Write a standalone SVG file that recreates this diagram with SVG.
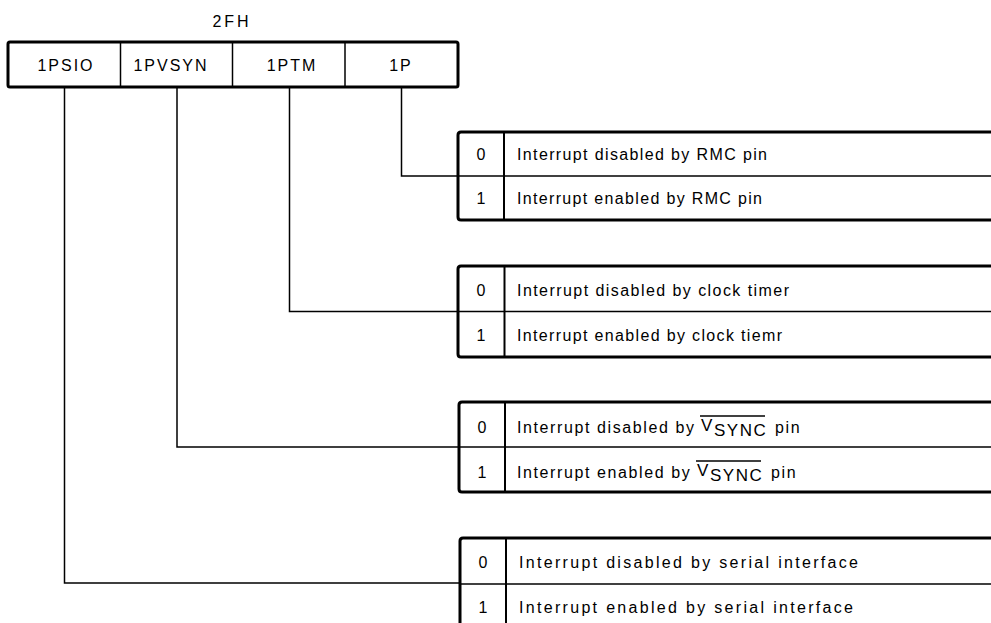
<svg xmlns="http://www.w3.org/2000/svg" width="991" height="623" viewBox="0 0 991 623">
<style>
.t{font-family:"Liberation Sans",Arial,sans-serif;font-size:16px;letter-spacing:2px;fill:#000}
.d{font-family:"Liberation Sans",Arial,sans-serif;font-size:16px;fill:#000}
.v{font-family:"Liberation Sans",Arial,sans-serif;font-size:16px;letter-spacing:1.6px;fill:#000}
.bv{font-size:17px;letter-spacing:0}
.bs{font-size:17px;letter-spacing:1.5px}
.n{font-family:"Liberation Sans",Arial,sans-serif;font-size:16px;fill:#000}
.thick{stroke:#000;stroke-width:3;fill:none;stroke-linejoin:round}
.thin{stroke:#000;stroke-width:1.5;fill:none}
.div{stroke:#000;stroke-width:2;fill:none}
.ov{stroke:#000;stroke-width:1.3}
</style>
<rect width="991" height="623" fill="#fff"/>
<g id="register">
<text class="t" x="232" y="27" text-anchor="middle" style="letter-spacing:3px">2FH</text>
<rect class="thick" x="8" y="42" width="450" height="45" rx="2"/>
<line class="thin" x1="120.5" y1="42" x2="120.5" y2="87"/>
<line class="thin" x1="232.5" y1="42" x2="232.5" y2="87"/>
<line class="thin" x1="345" y1="42" x2="345" y2="87"/>
<text class="t" x="66" y="71" text-anchor="middle">1PSIO</text>
<text class="t" x="171" y="71" text-anchor="middle">1PVSYN</text>
<text class="t" x="292" y="71" text-anchor="middle">1PTM</text>
<text class="t" x="401" y="71" text-anchor="middle">1P</text>
</g>
<g id="connectors">
<polyline class="thin" points="401.5,87 401.5,176 458,176"/>
<polyline class="thin" points="289.5,87 289.5,311.5 458,311.5"/>
<polyline class="thin" points="177,87 177,447 459,447"/>
<polyline class="thin" points="64.5,87 64.5,583 460,583"/>
</g>
<g id="table-1p">
<path class="thick" d="M991,132 H461 Q458,132 458,135 V217 Q458,220 461,220 H991"/>
<line class="thin" x1="458" y1="176" x2="991" y2="176"/>
<line class="div" x1="504" y1="132" x2="504" y2="220"/>
<text class="n" x="481" y="160" text-anchor="middle">0</text>
<text class="d" x="517" y="160" textLength="250" lengthAdjust="spacing">Interrupt disabled by RMC pin</text>
<text class="n" x="481" y="204" text-anchor="middle">1</text>
<text class="d" x="517" y="204" textLength="245" lengthAdjust="spacing">Interrupt enabled by RMC pin</text>
</g>
<g id="table-1ptm">
<path class="thick" d="M991,266 H461 Q458,266 458,269 V354 Q458,357 461,357 H991"/>
<line class="thin" x1="458" y1="311.5" x2="991" y2="311.5"/>
<line class="div" x1="504.5" y1="266" x2="504.5" y2="357"/>
<text class="n" x="481" y="296" text-anchor="middle">0</text>
<text class="d" x="517" y="296" textLength="272" lengthAdjust="spacing">Interrupt disabled by clock timer</text>
<text class="n" x="481" y="341" text-anchor="middle">1</text>
<text class="d" x="517" y="341" textLength="265" lengthAdjust="spacing">Interrupt enabled by clock tiemr</text>
</g>
<g id="table-1pvsyn">
<path class="thick" d="M991,402 H462 Q459,402 459,405 V489 Q459,492 462,492 H991"/>
<line class="thin" x1="459" y1="447" x2="991" y2="447"/>
<line class="div" x1="505" y1="402" x2="505" y2="492"/>
<text class="n" x="482" y="433" text-anchor="middle">0</text>
<text class="v" x="517" y="433">Interrupt disabled by <tspan class="bv" x="701" dy="-2">V</tspan><tspan class="bs" x="714" dy="5">SYNC</tspan><tspan x="775" dy="-3">pin</tspan></text>
<line class="ov" x1="700" y1="416" x2="765" y2="416"/>
<text class="n" x="482" y="478" text-anchor="middle">1</text>
<text class="v" x="517" y="478">Interrupt enabled by <tspan class="bv" x="697" dy="-2">V</tspan><tspan class="bs" x="710" dy="5">SYNC</tspan><tspan x="771" dy="-3">pin</tspan></text>
<line class="ov" x1="696" y1="461" x2="761" y2="461"/>
</g>
<g id="table-1psio">
<path class="thick" d="M991,538 H463 Q460,538 460,541 V623"/>
<line class="thin" x1="460" y1="584" x2="991" y2="584"/>
<line class="div" x1="506" y1="538" x2="506" y2="623"/>
<text class="n" x="483" y="568" text-anchor="middle">0</text>
<text class="d" x="519" y="568" textLength="339" lengthAdjust="spacing">Interrupt disabled by serial interface</text>
<text class="n" x="483" y="613" text-anchor="middle">1</text>
<text class="d" x="519" y="613" textLength="334" lengthAdjust="spacing">Interrupt enabled by serial interface</text>
</g>
</svg>
